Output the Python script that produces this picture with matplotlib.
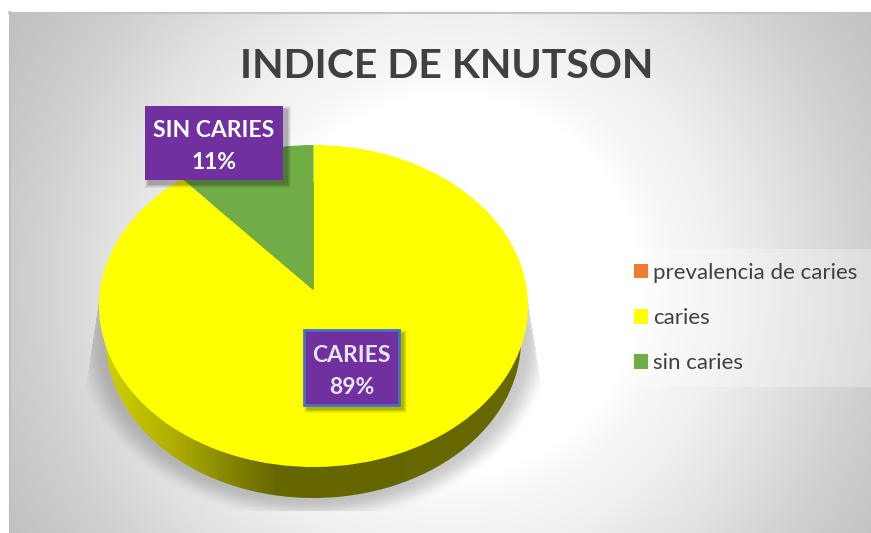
import numpy as np
import matplotlib
matplotlib.use('Agg')
import matplotlib.pyplot as plt
from matplotlib.patches import Ellipse, PathPatch, Rectangle
from matplotlib.path import Path

categories = ['prevalencia de caries', 'caries', 'sin caries']
values = [0, 88.5, 11.5]
colors = ['#ED7D31', '#FFFF00', '#70AD47']
label_names = ['CARIES', 'SIN CARIES']
label_values = [89, 11]
title = 'INDICE DE KNUTSON'

W, H = 871, 533
plt.rcParams['font.family'] = ['Lato', 'DejaVu Sans']

fig = plt.figure(figsize=(W / 100, H / 100), dpi=100, facecolor='white')
ax = fig.add_axes([0, 0, 1, 1])

# pie on a unit circle first, then tilted below
wedges, _ = ax.pie(values, colors=colors, startangle=90, counterclock=False, radius=1)


def tilt(xy):
    # perspective so the apex sits above the middle of the ellipse
    k = 0.0994
    w = 1 + k * xy[:, 1]
    return np.column_stack([313.5 + 213.4 * xy[:, 0] / w, 290 - 159.4 * xy[:, 1] / w])


handles = []
for wedge, color in zip(wedges, colors):
    path = wedge.get_path()
    verts = wedge.get_patch_transform().transform(path.vertices)
    wedge.remove()
    p = PathPatch(Path(tilt(verts), path.codes), facecolor=color, edgecolor='none', zorder=5)
    ax.add_patch(p)
    handles.append(p)

yy, xx = np.mgrid[0:H, 0:W]

# chart background
r = np.hypot(xx - 450, yy - 285)
bg = np.interp(r, [0, 190, 225, 273, 350, 420, 520], [255, 255, 246, 240, 224, 208, 191])
bg_rgb = np.dstack([bg, bg, bg]).astype(np.uint8)
im_bg = ax.imshow(bg_rgb, extent=(0, W, H, 0), zorder=0)
im_bg.set_clip_path(Rectangle((9, 12), W - 9, H - 12, transform=ax.transData))
ax.plot([9, W], [12.5, 12.5], color='#c4c4c4', lw=1.5, zorder=1)
ax.plot([9.5, 9.5], [12, H], color='#c0c0c0', lw=1.5, zorder=1)

# soft shadow under the pie
d = np.hypot((xx - 313) / 240, (yy - 340) / 182)
shade = np.clip((1 - d) / 0.13, 0, 1)
shade = shade * shade * (3 - 2 * shade) * 0.21
left_edge = 97 - (yy - 310) * 12 / 80
right_edge = 528 + (yy - 310) * 13 / 80
shade[(xx < left_edge) | (xx > right_edge) | (yy > 510) | (yy < 290)] = 0
shadow = np.zeros((H, W, 4))
shadow[..., 3] = shade
ax.imshow(shadow, extent=(0, W, H, 0), zorder=2)

# side of the pie
xs = np.arange(W)
side_r = np.interp(xs, [105, 170, 237, 277, 530], [208, 176, 128, 102, 104])
side = np.zeros((1, W, 3))
side[0, :, 0] = side_r / 255
side[0, :, 1] = side_r / 255
side_im = ax.imshow(side, extent=(0, W, 533, 0), zorder=3, aspect='auto')
side_im.set_clip_path(Ellipse((313.5, 340), 415, 316, transform=ax.transData))

ax.set_xlim(0, W)
ax.set_ylim(H, 0)
ax.set_aspect('auto')
ax.axis('off')

ax.text(447, 63, title, ha='center', va='center_baseline', fontsize=29.5, fontweight='bold',
        color='#404040', zorder=8)

# data labels
boxes = [(304, 330, 95, 75, '#4472C4', 2), (145, 106, 138, 74, '#7030A0', 0)]
text_colors = ['#E8E4F0', 'white']
for name, val, (x, y, w, h, edge, lw), tc in zip(label_names, label_values, boxes, text_colors):
    for grow, a in zip([4, 3, 2, 1], [0.05, 0.07, 0.09, 0.11]):
        ax.add_patch(Rectangle((x + 4 - grow, y + 4 - grow), w + 2 * grow, h + 2 * grow,
                               facecolor='black', edgecolor='none', alpha=a, zorder=6))
    ax.add_patch(Rectangle((x, y), w, h, facecolor='#7030A0', edgecolor=edge, linewidth=lw, zorder=7))
    cx = x + w / 2
    ax.text(cx, y + h * 0.31, name, ha='center', va='center_baseline', fontsize=16.5,
            fontweight='bold', color=tc, zorder=8)
    ax.text(cx, y + h * 0.74, f'{val}%', ha='center', va='center_baseline', fontsize=16.5,
            fontweight='bold', color=tc, zorder=8)

leg = ax.legend(handles, categories, loc='upper left', bbox_to_anchor=(620, 249),
                bbox_transform=ax.transData, frameon=True, framealpha=0.3, facecolor='white',
                edgecolor='none', fancybox=False, fontsize=16, labelcolor='#404040',
                handlelength=0.65, handleheight=0.65, handletextpad=0.2, labelspacing=1.13,
                borderpad=0.62, borderaxespad=0)
leg.set_zorder(8)

fig.savefig('out.png', dpi=100)
